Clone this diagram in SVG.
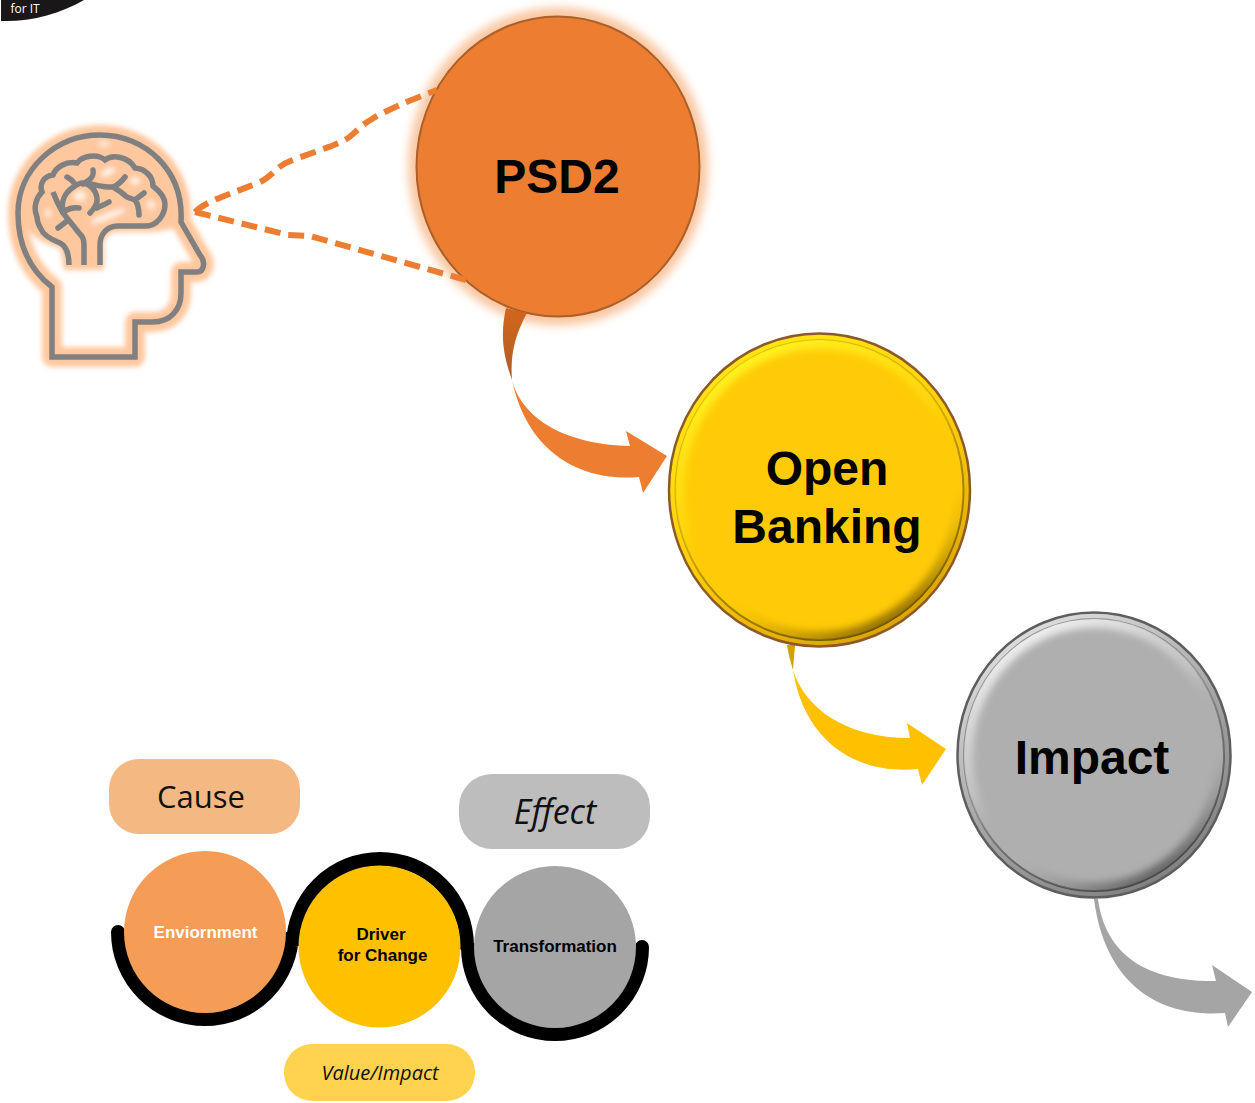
<svg xmlns="http://www.w3.org/2000/svg" width="1255" height="1103" viewBox="0 0 1255 1103">
<style>
.sans{font-family:"Liberation Sans",Arial,sans-serif;font-weight:bold;text-anchor:middle;fill:#000}
.big{font-size:48px}
.small{font-size:17px}
.os{font-family:"Open Sans","Noto Sans",sans-serif;fill:#111;text-anchor:middle}
.it{font-style:italic}
.dash{fill:none;stroke:#ED7D31;stroke-width:6;stroke-dasharray:16 8}
.head{fill:none;stroke:#808080;stroke-width:5.500;stroke-linecap:round;stroke-linejoin:miter}
.headglow{fill:none;stroke:#FFC79E;stroke-width:20;stroke-linejoin:round;stroke-linecap:round}
</style>
<defs>
<filter id="blur1" x="-20%" y="-20%" width="140%" height="140%"><feGaussianBlur stdDeviation="2.500"/></filter>
<filter id="blur2" x="-20%" y="-20%" width="140%" height="140%"><feGaussianBlur stdDeviation="5"/></filter>
<filter id="blur3" x="-20%" y="-20%" width="140%" height="140%"><feGaussianBlur stdDeviation="3.500"/></filter>
<linearGradient id="tail1" x1="0" y1="0" x2="0" y2="1"><stop offset="0" stop-color="#D2661C"/><stop offset="1" stop-color="#AD5F28"/></linearGradient>
<linearGradient id="rimG" x1="0.2" y1="0" x2="0.75" y2="1"><stop offset="0" stop-color="#FFE814"/><stop offset="0.5" stop-color="#FFD008"/><stop offset="1" stop-color="#D8A000"/></linearGradient>
<linearGradient id="ringG" x1="0.25" y1="0" x2="0.75" y2="1"><stop offset="0" stop-color="#E8C000"/><stop offset="0.5" stop-color="#C8A008"/><stop offset="1" stop-color="#5E4600"/></linearGradient>
<linearGradient id="edgeG" x1="0.25" y1="0" x2="0.75" y2="1"><stop offset="0" stop-color="#FFF520"/><stop offset="0.4" stop-color="#FFE010" stop-opacity="0.6"/><stop offset="0.55" stop-color="#FFCB08" stop-opacity="0"/><stop offset="0.65" stop-color="#FFCB08" stop-opacity="0"/><stop offset="1" stop-color="#6E5200"/></linearGradient>
<linearGradient id="rimS" x1="0.2" y1="0" x2="0.75" y2="1"><stop offset="0" stop-color="#E4E4E4"/><stop offset="0.5" stop-color="#A8A8A8"/><stop offset="1" stop-color="#7E7E7E"/></linearGradient>
<linearGradient id="ringS" x1="0.25" y1="0" x2="0.75" y2="1"><stop offset="0" stop-color="#9A9A9A"/><stop offset="0.5" stop-color="#858585"/><stop offset="1" stop-color="#3A3A3A"/></linearGradient>
<linearGradient id="edgeS" x1="0.25" y1="0" x2="0.8" y2="1"><stop offset="0" stop-color="#F5F5F5"/><stop offset="0.4" stop-color="#D0D0D0" stop-opacity="0.6"/><stop offset="0.55" stop-color="#AFAFAF" stop-opacity="0"/><stop offset="0.65" stop-color="#AFAFAF" stop-opacity="0"/><stop offset="1" stop-color="#3E3E3E"/></linearGradient>
<clipPath id="clipG"><ellipse cx="819.5" cy="490" rx="144" ry="150"/></clipPath>
<clipPath id="clipS"><ellipse cx="1094" cy="755" rx="130" ry="136"/></clipPath>
</defs>
<rect width="1255" height="1103" fill="#fff"/>

<g id="corner-badge">
<path d="M1 0V21C30 22 60 14 84 0Z" fill="#1A1718"/>
<text x="25" y="13" font-family="Open Sans, sans-serif" font-size="12" fill="#fff" text-anchor="middle">for IT</text>
</g>

<g id="brain-head">
<path class="headglow" filter="url(#blur1)" d="M181 222C184 170 145 135 100 135C55 135 18 170 18 213C18 245 30 270 52 287V357H135V322H153C170 322 181 310 181 293V272H197C204 272 206 262 200 255Z"/>
<path d="M181 225C184 170 145 135 100 135C55 135 18 170 18 213C18 222 22 230 30 233C36 238 45 245 60 248L64 270H104V245C104 236 110 232 120 232H150C165 231 175 228 181 225Z" fill="#FFC79E" filter="url(#blur1)"/>
<g fill="#fff" filter="url(#blur1)" opacity=".75">
<ellipse cx="108" cy="172" rx="8" ry="3.500" transform="rotate(-25 108 172)"/>
<ellipse cx="80" cy="196" rx="6" ry="5"/>
<ellipse cx="108" cy="216" rx="19" ry="3.500" transform="rotate(-22 108 216)"/>
<ellipse cx="135" cy="181" rx="5" ry="4"/>
<ellipse cx="151" cy="205" rx="3.500" ry="5"/>
<ellipse cx="48" cy="213" rx="3" ry="4"/>
<ellipse cx="104" cy="144" rx="6" ry="2.500"/>
</g>
<path class="head" style="stroke-linecap:butt" d="M181 222C184 170 145 135 100 135C55 135 18 170 18 213C18 245 30 270 52 287V357H135V322H153C170 322 181 310 181 293V272H197C204 272 206 262 200 255Z"/>
<path class="head" style="stroke-linecap:butt" d="M69 265C69 252 66 246 60 243C50 239 43 235 41 229C38 224 37 220 37 217C33 208 36 198 42 192C39 184 44 176 53 175C56 167 66 161 77 163C82 156 97 153 105 160C111 155 127 155 135 168C146 169 153 177 153 186C158 190 165 196 165 204C165 216 156 226 146 226H118C106 226 100 235 100 245V265"/>
<path class="head" style="stroke-linecap:butt" d="M84 265V245C84 238 82 236 79 233L63 213C60 208 56 200 53 192"/>
<path class="head" d="M79 208C72 207 68 209 63 212M58 228L67 221M63 212C61 201 64 194 72 188C76 185 80 183 83 183C90 184 96 190 97 198C98 204 94 209 90 213M109 202C104 205 100 206 97 208M67 177C71 179 73 181 75 184M93 170C94 174 92 178 89 180L83 184M85 183C94 184 103 188 113 187C118 185 122 181 125 177M113 187C119 190 124 195 127 197L135 200L144 193M135 200C138 204 139 209 139 215"/>
</g>

<g id="node-psd2">
<ellipse cx="558" cy="166.500" rx="150" ry="159" fill="#FAC6A0" filter="url(#blur2)"/>
<ellipse cx="558" cy="166.500" rx="141.500" ry="150" fill="#ED7D31" stroke="#A9602A" stroke-width="2"/>
<text class="sans big" x="557" y="193">PSD2</text>
</g>

<g id="connectors">
<path class="dash" d="M195 212C205 202 222 197 258 183C270 178 274 170 284 164C292 159 330 148 345 140C355 134 358 127 372 119C385 111 410 100 437 90"/>
<path class="dash" d="M195 212L288 235L310 236L466 280"/>
<g id="arrow-psd2-open">
<path d="M512 380C520 412 555 444 630 446L626 431L667 456L643 493L639 477C585 482 528 456 512 380Z" fill="#ED7D31"/>
<path d="M506 308L527 313C515 335 510 355 512 380C503 355 500 335 506 308Z" fill="url(#tail1)"/>
</g>
<g id="arrow-open-impact">
<path d="M793 670C805 708 845 738 910 738L907 723L946 749L922 785L918 769C860 775 805 745 793 670Z" fill="#FFC000"/>
<path d="M787 645L795 645L793 670C790 660 788 652 787 645Z" fill="#D0A400"/>
</g>
<g id="arrow-impact-out">
<path d="M1098 899C1105 950 1140 982 1216 981L1212 965L1252 992L1228 1027L1225 1013C1160 1018 1105 985 1094 899Z" fill="#A5A5A5"/>
</g>
<path d="M118 932A87 87 0 0 0 292 932L293 946A87 87 0 0 1 467 946L468 947A87 87 0 0 0 642 947" fill="none" stroke="#000" stroke-width="14" stroke-linecap="round"/>
</g>

<g id="node-open-banking">
<ellipse cx="819.500" cy="490" rx="150.500" ry="156.500" fill="url(#rimG)" stroke="#8C5A28" stroke-width="2.500"/>
<ellipse cx="819.500" cy="490" rx="144" ry="150" fill="#FFCB08" stroke="url(#ringG)" stroke-width="2"/>
<g clip-path="url(#clipG)"><ellipse cx="819.500" cy="490" rx="144" ry="150" fill="none" stroke="url(#edgeG)" stroke-width="18" filter="url(#blur3)"/></g>
<text class="sans big"><tspan x="827" y="485">Open</tspan><tspan x="827" y="543">Banking</tspan></text>
</g>

<g id="node-impact">
<ellipse cx="1094" cy="755" rx="136.500" ry="142.500" fill="url(#rimS)" stroke="#5E5E5E" stroke-width="2.500"/>
<ellipse cx="1094" cy="755" rx="130" ry="136" fill="#AFAFAF" stroke="url(#ringS)" stroke-width="2"/>
<g clip-path="url(#clipS)"><ellipse cx="1094" cy="755" rx="130" ry="136" fill="none" stroke="url(#edgeS)" stroke-width="18" filter="url(#blur3)"/></g>
<text class="sans big" x="1092" y="774">Impact</text>
</g>

<g id="pill-cause">
<rect x="109" y="759" width="191" height="75" rx="30" fill="#F4B983"/>
<text class="os" x="201" y="808" font-size="31">Cause</text>
</g>
<g id="pill-effect">
<rect x="459" y="774" width="191" height="75" rx="33" fill="#BDBDBD"/>
<text class="os it" x="555" y="824" font-size="34">Effect</text>
</g>
<g id="pill-value">
<rect x="284" y="1044" width="191" height="57" rx="28" fill="#FFD24F"/>
<text class="os it" x="380" y="1080" font-size="20">Value/Impact</text>
</g>

<g id="node-environment">
<ellipse cx="205" cy="932" rx="81" ry="81" fill="#F59D56"/>
<text class="sans small" x="205.500" y="938" style="fill:#fff">Enviornment</text>
</g>
<g id="node-driver">
<ellipse cx="379.500" cy="946.500" rx="81" ry="81" fill="#FFC000"/>
<text class="sans small"><tspan x="381" y="940">Driver</tspan><tspan x="382.500" y="961">for Change</tspan></text>
</g>
<g id="node-transformation">
<ellipse cx="555" cy="947" rx="81" ry="81" fill="#A5A5A5"/>
<text class="sans small" x="555" y="952">Transformation</text>
</g>
</svg>
